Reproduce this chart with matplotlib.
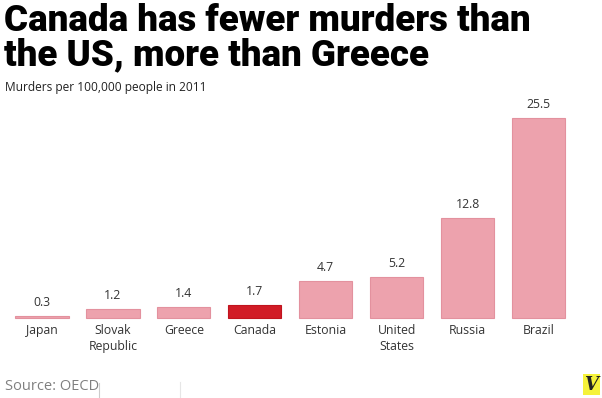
import matplotlib
matplotlib.use("Agg")
import matplotlib.pyplot as plt
from matplotlib.patches import Rectangle

countries = ["Japan", "Slovak\nRepublic", "Greece", "Canada", "Estonia", "United\nStates", "Russia", "Brazil"]
values = [0.3, 1.2, 1.4, 1.7, 4.7, 5.2, 12.8, 25.5]
value_labels = ["0.3", "1.2", "1.4", "1.7", "4.7", "5.2", "12.8", "25.5"]
highlight = "Canada"

title = "Canada has fewer murders than\nthe US, more than Greece"
subtitle = "Murders per 100,000 people in 2011"
source = "Source: OECD"

W, H = 602, 398
fig = plt.figure(figsize=(W / 100, H / 100), dpi=100)
fig.patch.set_facecolor("white")

base_px = 318
top_px = 118
ax = fig.add_axes([6.5 / W, (H - base_px) / H, (574 - 6.5) / W, (base_px - top_px) / H])
ax.set_xlim(-0.5, len(values) - 0.5)
ax.set_ylim(0, max(values))
ax.axis("off")

pink = "#EDA2AD"
pink_edge = "#E3919E"
red = "#D11C26"
red_edge = "#C0141E"
colors = [red if c == highlight else pink for c in countries]
edges = [red_edge if c == highlight else pink_edge for c in countries]
x = list(range(len(values)))
ax.bar(x, values, width=0.75, color=colors, edgecolor=edges, linewidth=0.8, clip_on=False)

font = "Open Sans"
for xi, v, lab in zip(x, values, value_labels):
    ax.annotate(lab, (xi, v), xytext=(0, 5), textcoords="offset points",
                ha="center", va="bottom", fontsize=8.8, color="#333333", family=font)
for xi, c in zip(x, countries):
    ax.annotate(c, (xi, 0), xytext=(0, -4), textcoords="offset points",
                ha="center", va="top", fontsize=8.8, color="#333333", family=font,
                linespacing=1.3)

fig.text(4 / W, 1 - 65 / H, title, ha="left", va="baseline", fontsize=26.5,
         fontweight="black", family="Roboto", color="black", linespacing=0.94)
fig.text(5 / W, 1 - 88 / H, subtitle, ha="left", va="center", fontsize=8.6, color="#222222", family=font)
fig.text(5 / W, 1 - 386 / H, source, ha="left", va="center", fontsize=10.5, color="#808080", family=font)

# thin separators near source
fig.add_artist(plt.Line2D([99 / W, 99 / W], [0, 1 - 383 / H], color="#cccccc", lw=0.8))
fig.add_artist(plt.Line2D([180 / W, 180 / W], [0, 1 - 382 / H], color="#e6e6e6", lw=0.8))

# logo
fig.add_artist(Rectangle((583 / W, 3 / H), 17 / W, 21 / H, transform=fig.transFigure,
                         facecolor="#F5F23A", edgecolor="none"))
fig.text(591.5 / W, 13.5 / H, "V", ha="center", va="center", fontsize=13, fontweight="bold",
         family="DejaVu Serif", style="italic", color="#222222")

fig.savefig("out.png", dpi=100)
